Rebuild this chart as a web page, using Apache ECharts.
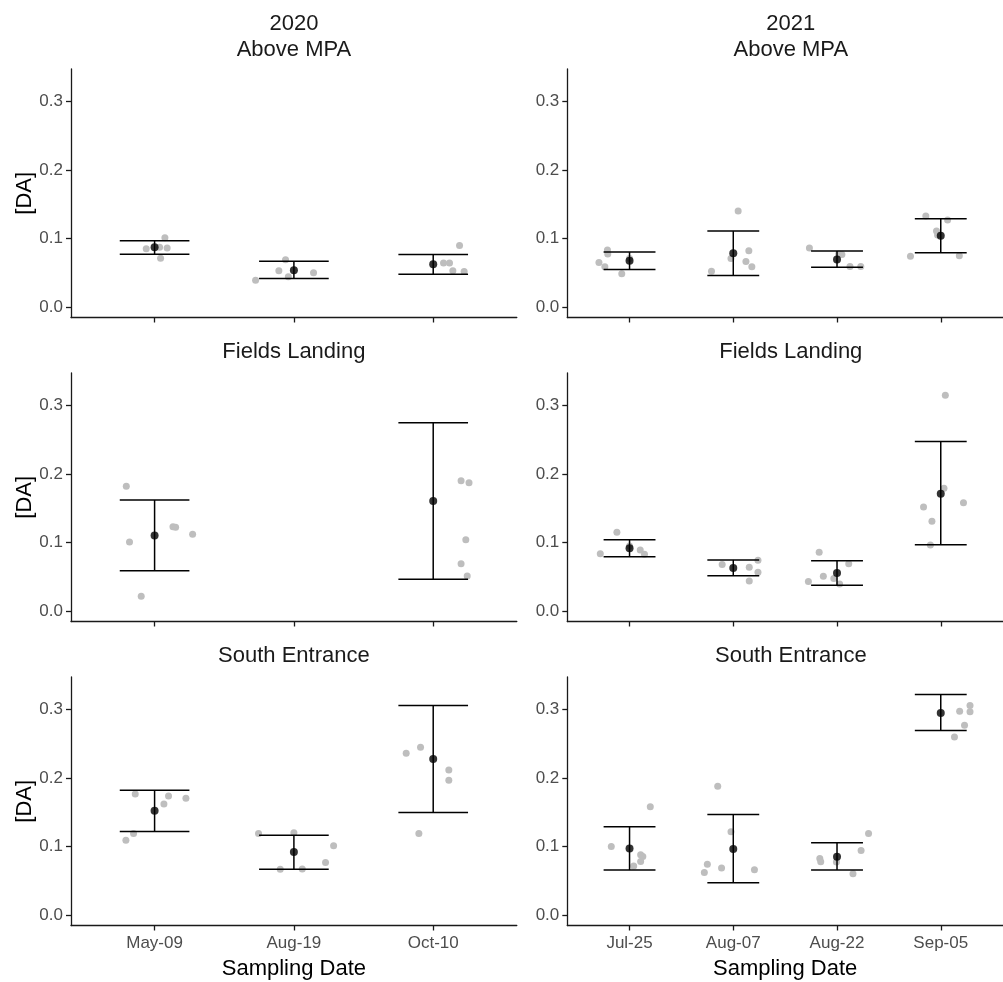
<!DOCTYPE html>
<html>
<head>
<meta charset="utf-8">
<script src="https://cdn.jsdelivr.net/npm/echarts@6/dist/echarts.min.js"></script>
<style>html,body{margin:0;padding:0;background:#fff}#chart{width:1003px;height:982px}</style>
</head>
<body>
<div id="chart"></div>
<script>
// ---------- data ----------
const dates2020 = ['May-09', 'Aug-19', 'Oct-10'];
const dates2021 = ['Jul-25', 'Aug-07', 'Aug-22', 'Sep-05'];
const years = ['2020', '2021'];
const sites = ['Above MPA', 'Fields Landing', 'South Entrance'];
const yTicks = [0, 0.1, 0.2, 0.3];

// 2020 Above MPA
const mean_2020_above = [0.087, 0.0537, 0.0624];
const lo_2020_above = [0.077, 0.0415, 0.0478];
const hi_2020_above = [0.0966, 0.0668, 0.0766];
const pts_2020_above = [[0.085, 0.087, 0.101, 0.086, 0.071], [0.039, 0.0527, 0.069, 0.044, 0.050], [0.064, 0.064, 0.0898, 0.0527, 0.0517]];
const jit_2020_above = [[-0.06, 0.036, 0.074, 0.09, 0.043], [-0.275, -0.108, -0.06, -0.04, 0.141], [0.074, 0.117, 0.189, 0.141, 0.222]];

// 2021 Above MPA
const mean_2021_above = [0.0673, 0.0785, 0.0693, 0.104];
const lo_2021_above = [0.0546, 0.0459, 0.058, 0.079];
const hi_2021_above = [0.080, 0.1107, 0.0815, 0.1288];
const pts_2021_above = [[0.065, 0.0585, 0.083, 0.0771, 0.0483, 0.0707], [0.0522, 0.0707, 0.14, 0.082, 0.0663, 0.0585], [0.0859, 0.0771, 0.0766, 0.059, 0.059], [0.0741, 0.1327, 0.1268, 0.1107, 0.105, 0.0746]];
const jit_2021_above = [[-0.295, -0.238, -0.213, -0.21, -0.075, 0.0], [-0.21, -0.022, 0.047, 0.15, 0.122, 0.179], [-0.266, 0.016, 0.047, 0.125, 0.229], [-0.292, -0.144, 0.066, -0.041, -0.031, 0.179]];

// 2020 Fields Landing (no Aug-19 sample)
const mean_2020_fields = [0.110, null, 0.1604];
const lo_2020_fields = [0.0588, null, 0.0462];
const hi_2020_fields = [0.162, null, 0.2747];
const pts_2020_fields = [[0.182, 0.1006, 0.0214, 0.123, 0.122, 0.1118], [], [0.190, 0.187, 0.104, 0.069, 0.051]];
const jit_2020_fields = [[-0.203, -0.18, -0.096, 0.132, 0.151, 0.273], [], [0.2, 0.257, 0.234, 0.2, 0.244]];

// 2021 Fields Landing
const mean_2021_fields = [0.0914, 0.0627, 0.0554, 0.1711];
const lo_2021_fields = [0.0792, 0.0515, 0.0374, 0.0967];
const hi_2021_fields = [0.104, 0.0744, 0.0734, 0.2475];
const pts_2021_fields = [[0.0836, 0.1147, 0.0948, 0.089, 0.0826], [0.0676, 0.0637, 0.0438, 0.0739, 0.0564], [0.0428, 0.0856, 0.0506, 0.0472, 0.0394, 0.069], [0.315, 0.179, 0.1517, 0.1308, 0.0963, 0.158]];
const jit_2021_fields = [[-0.282, -0.122, 0, 0.103, 0.144], [-0.107, 0.154, 0.154, 0.238, 0.238], [-0.276, -0.172, -0.132, -0.031, 0.025, 0.113], [0.044, 0.031, -0.166, -0.085, -0.1, 0.219]];

// 2020 South Entrance
const mean_2020_south = [0.152, 0.0917, 0.2277];
const lo_2020_south = [0.1218, 0.0665, 0.1495];
const hi_2020_south = [0.182, 0.1165, 0.3058];
const pts_2020_south = [[0.1767, 0.162, 0.1738, 0.1704, 0.119, 0.109], [0.119, 0.12, 0.101, 0.0767, 0.0665, 0.067], [0.236, 0.245, 0.2117, 0.1966, 0.119]];
const jit_2020_south = [[-0.139, 0.067, 0.1, 0.225, -0.151, -0.206], [-0.254, 0, 0.285, 0.227, -0.098, 0.06], [-0.194, -0.091, 0.112, 0.112, -0.103]];

// 2021 South Entrance
const mean_2021_south = [0.097, 0.0961, 0.085, 0.295];
const lo_2021_south = [0.0655, 0.047, 0.0655, 0.2694];
const hi_2021_south = [0.1286, 0.1466, 0.1053, 0.3218];
const pts_2021_south = [[0.1, 0.158, 0.0879, 0.0854, 0.078, 0.0714], [0.188, 0.1214, 0.0738, 0.0621, 0.0684, 0.066], [0.0825, 0.0777, 0.0772, 0.0942, 0.119, 0.0602], [0.2976, 0.3058, 0.2966, 0.277, 0.2597]];
const jit_2021_south = [[-0.176, 0.2, 0.107, 0.128, 0.107, 0.04], [-0.15, -0.022, -0.25, -0.279, -0.113, 0.204], [-0.166, -0.157, -0.006, 0.232, 0.304, 0.154], [0.182, 0.282, 0.282, 0.229, 0.132]];

// ---------- layout ----------
const FONT = '"Liberation Sans", Arial, Helvetica, sans-serif';
const colLeft = [71, 567.3];
const colWidth = [445.8, 447];
const rowTop = [69, 373, 677];
const rowHeight = 248.5;

const panels = [
  {col: 0, row: 0, dates: dates2020, mean: mean_2020_above, lo: lo_2020_above, hi: hi_2020_above, pts: pts_2020_above, jit: jit_2020_above},
  {col: 1, row: 0, dates: dates2021, mean: mean_2021_above, lo: lo_2021_above, hi: hi_2021_above, pts: pts_2021_above, jit: jit_2021_above},
  {col: 0, row: 1, dates: dates2020, mean: mean_2020_fields, lo: lo_2020_fields, hi: hi_2020_fields, pts: pts_2020_fields, jit: jit_2020_fields},
  {col: 1, row: 1, dates: dates2021, mean: mean_2021_fields, lo: lo_2021_fields, hi: hi_2021_fields, pts: pts_2021_fields, jit: jit_2021_fields},
  {col: 0, row: 2, dates: dates2020, mean: mean_2020_south, lo: lo_2020_south, hi: hi_2020_south, pts: pts_2020_south, jit: jit_2020_south},
  {col: 1, row: 2, dates: dates2021, mean: mean_2021_south, lo: lo_2021_south, hi: hi_2021_south, pts: pts_2021_south, jit: jit_2021_south}
];

const grids = [], xAxes = [], yAxes = [], series = [];
const axisLine = {show: true, onZero: false, lineStyle: {color: '#1a1a1a', width: 1.3}};
const axisTick = (vals) => ({show: true, length: 5, customValues: vals, lineStyle: {color: '#1a1a1a', width: 1.3}});

panels.forEach((p, i) => {
  const n = p.dates.length;
  const cats = p.dates.map((d, k) => k + 1);
  grids.push({left: colLeft[p.col], top: rowTop[p.row], width: colWidth[p.col], height: rowHeight, containLabel: false});
  const bottom = p.row === 2;
  xAxes.push({
    type: 'value', gridIndex: i, min: 0.4, max: n + 0.6, position: 'bottom',
    axisLine, axisTick: axisTick(cats), splitLine: {show: false},
    axisLabel: {show: bottom, customValues: cats, margin: 9, color: '#4d4d4d', fontSize: 17, fontFamily: FONT,
      formatter: (v) => p.dates[Math.round(v) - 1]},
    name: bottom ? 'Sampling Date' : '', nameLocation: 'middle', nameGap: 32,
    nameTextStyle: {color: '#000', fontSize: 22, fontFamily: FONT}
  });
  yAxes.push({
    type: 'value', gridIndex: i, min: -0.0155, max: 0.3475, position: 'left',
    axisLine, axisTick: axisTick(yTicks), splitLine: {show: false},
    axisLabel: {show: true, customValues: yTicks, margin: 8, color: '#4d4d4d', fontSize: 17, fontFamily: FONT,
      formatter: (v) => v.toFixed(1)},
    name: p.col === 0 ? '[DA]' : '', nameLocation: 'middle', nameGap: 33,
    nameTextStyle: {color: '#000', fontSize: 22, fontFamily: FONT}
  });
  // jittered raw samples
  const raw = [];
  p.pts.forEach((vals, k) => vals.forEach((v, j) => raw.push([k + 1 + p.jit[k][j], v])));
  series.push({type: 'scatter', xAxisIndex: i, yAxisIndex: i, data: raw, symbolSize: 7,
    itemStyle: {color: '#bebebe', opacity: 1}, silent: true, z: 2});
  // error bars (mean ± error), wide caps
  const eb = [];
  p.mean.forEach((m, k) => { if (m !== null) eb.push([k + 1, p.lo[k], p.hi[k]]); });
  series.push({type: 'custom', xAxisIndex: i, yAxisIndex: i, data: eb, z: 3, silent: true,
    encode: {x: 0, y: [1, 2]},
    renderItem: (params, api) => {
      const x = api.value(0), lo = api.value(1), hi = api.value(2);
      const a = api.coord([x - 0.25, hi]), b = api.coord([x + 0.25, hi]);
      const c = api.coord([x - 0.25, lo]), d = api.coord([x + 0.25, lo]);
      const t = api.coord([x, hi]), u = api.coord([x, lo]);
      const st = {stroke: '#000', lineWidth: 1.5, fill: null};
      return {type: 'group', children: [
        {type: 'line', shape: {x1: a[0], y1: a[1], x2: b[0], y2: b[1]}, style: st},
        {type: 'line', shape: {x1: c[0], y1: c[1], x2: d[0], y2: d[1]}, style: st},
        {type: 'line', shape: {x1: t[0], y1: t[1], x2: u[0], y2: u[1]}, style: st}
      ]};
    }});
  // means
  const mdata = [];
  p.mean.forEach((m, k) => { if (m !== null) mdata.push([k + 1, m]); });
  series.push({type: 'scatter', xAxisIndex: i, yAxisIndex: i, data: mdata, symbolSize: 8,
    itemStyle: {color: '#000'}, silent: true, z: 4});
});

// strip titles
const colCenter = colLeft.map((l, c) => l + colWidth[c] / 2);
const txt = (x, y, s) => ({type: 'text', x: x, y: y, silent: true,
  style: {text: s, fontSize: 22, fontFamily: FONT, fill: '#1a1a1a', align: 'center', verticalAlign: 'middle'}});
const graphics = [];
[0, 1].forEach(c => {
  graphics.push(txt(colCenter[c], 24, years[c]));
  graphics.push(txt(colCenter[c], 50, sites[0]));
  graphics.push(txt(colCenter[c], 352, sites[1]));
  graphics.push(txt(colCenter[c], 656, sites[2]));
});

const chart = echarts.init(document.getElementById('chart'), null, {renderer: 'canvas'});
chart.setOption({
  backgroundColor: '#fff',
  animation: false,
  grid: grids, xAxis: xAxes, yAxis: yAxes, series: series,
  graphic: graphics
});
</script>
</body>
</html>
